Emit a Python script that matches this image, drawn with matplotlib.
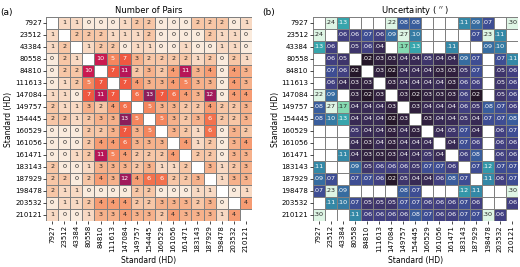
import numpy as np
import matplotlib
matplotlib.use("Agg")
import matplotlib.pyplot as plt
import seaborn as sns

labels = ["7927", "23512", "43384", "80558", "84810", "111613", "147084", "149757",
          "154445", "160529", "161056", "161471", "183143", "187929", "198478",
          "203532", "210121"]

N = None
pairs = [
    [N, 1, 1, 0, 0, 0, 1, 2, 2, 0, 0, 0, 2, 2, 2, 0, 1],
    [1, N, 2, 2, 2, 1, 1, 1, 2, 0, 0, 0, 0, 2, 1, 1, 0],
    [1, 2, N, 1, 2, 2, 0, 1, 1, 0, 0, 1, 0, 0, 1, 1, 0],
    [0, 2, 1, N, 10, 5, 7, 3, 2, 2, 2, 2, 1, 2, 0, 2, 1],
    [0, 2, 2, 10, N, 7, 11, 2, 3, 2, 4, 11, 3, 4, 0, 4, 3],
    [0, 1, 2, 5, 7, N, 7, 4, 3, 3, 4, 5, 3, 3, 0, 4, 3],
    [1, 1, 0, 7, 11, 7, N, 6, 13, 7, 6, 4, 3, 12, 0, 4, 4],
    [2, 1, 1, 3, 2, 4, 6, N, 5, 3, 3, 2, 2, 4, 2, 2, 3],
    [2, 2, 1, 2, 3, 3, 13, 5, N, 5, 3, 2, 3, 6, 2, 2, 3],
    [0, 0, 0, 2, 2, 3, 7, 3, 5, N, 3, 2, 1, 6, 0, 3, 2],
    [0, 0, 0, 2, 4, 4, 6, 3, 3, 3, N, 4, 1, 2, 0, 3, 4],
    [0, 0, 1, 2, 11, 5, 4, 2, 2, 2, 4, N, 2, 2, 0, 3, 3],
    [2, 0, 0, 1, 3, 3, 3, 2, 3, 1, 1, 2, N, 3, 1, 2, 3],
    [2, 2, 0, 2, 4, 3, 12, 4, 6, 6, 2, 2, 3, N, 1, 3, 3],
    [2, 1, 1, 0, 0, 0, 0, 2, 2, 0, 0, 0, 1, 1, N, 0, 1],
    [0, 1, 1, 2, 4, 4, 4, 2, 2, 3, 3, 3, 2, 3, 0, N, 4],
    [1, 0, 0, 1, 3, 3, 4, 3, 3, 2, 4, 3, 3, 3, 1, 4, N],
]

uncert = [
    [N, .24, .13, N, N, N, .22, .08, .08, N, N, N, .11, .09, .07, N, .30],
    [.24, N, .06, .06, .07, .06, .09, .27, .10, N, N, N, N, .07, .23, .11, N],
    [.13, .06, N, .05, .06, .04, N, .17, .13, N, N, .11, N, N, .09, .10, N],
    [N, .06, .05, N, .02, .03, .03, .04, .04, .05, .04, .04, .09, .07, N, .07, .11],
    [N, .07, .06, .02, N, .03, .02, .04, .04, .04, .03, .03, .05, .07, N, .05, .06],
    [N, .06, .04, .03, .03, N, .03, .04, .04, .04, .04, .03, .06, .06, N, .05, .06],
    [.22, .09, N, .03, .02, .03, N, .03, .02, .03, .03, .03, .06, .02, N, .05, .06],
    [.08, .27, .17, .04, .04, .04, .03, N, .03, .04, .04, .04, .06, .05, .08, .07, .06],
    [.08, .10, .13, .04, .04, .04, .02, .03, N, .03, .04, .04, .05, .04, .07, .07, .08],
    [N, N, N, .05, .04, .04, .03, .04, .03, N, .04, .05, .07, .04, N, .06, .07],
    [N, N, N, .04, .03, .04, .03, .04, .04, .04, N, .04, .07, .06, N, .06, .06],
    [N, N, .11, .04, .03, .03, .03, .04, .04, .05, .04, N, .06, .08, N, .06, .06],
    [.11, N, N, .09, .05, .06, .06, .06, .05, .07, .07, .06, N, .07, .12, .07, .07],
    [.09, .07, N, .07, .07, .06, .02, .05, .04, .04, .06, .08, .07, N, .11, .06, .07],
    [.07, .23, .09, N, N, N, N, .08, .07, N, N, N, .12, .11, N, N, .30],
    [N, .11, .10, .07, .05, .05, .05, .07, .07, .06, .06, .06, .07, .06, N, N, .06],
    [.30, N, N, .11, .06, .06, .06, .06, .08, .07, .06, .06, .07, .07, .30, .06, N],
]

P = np.array([[np.nan if v is None else v for v in r] for r in pairs], dtype=float)
U = np.array([[np.nan if v is None else v for v in r] for r in uncert], dtype=float)
U_txt = np.array([["" if np.isnan(v) else f"{v:.2f}".lstrip("0") for v in r] for r in U])

fig = plt.figure(figsize=(5.2, 2.67), dpi=100)
W, H = 520, 267
top, bot = 17, 221
ax1 = fig.add_axes([46 / W, (H - bot) / H, 206 / W, (bot - top) / H])
ax2 = fig.add_axes([312.5 / W, (H - bot) / H, 205.5 / W, (bot - top) / H])

fs_tick = 5
fs_ann = 4.6

sns.heatmap(P, ax=ax1, cmap="rocket_r", vmin=0, vmax=20, annot=True, fmt=".0f",
            annot_kws={"size": fs_ann}, cbar=False, linewidths=0.5, linecolor="gray",
            xticklabels=labels, yticklabels=labels)
sns.heatmap(U, ax=ax2, cmap="mako", vmin=0, vmax=0.2, annot=U_txt, fmt="",
            annot_kws={"size": fs_ann}, cbar=False, linewidths=0.5, linecolor="gray",
            xticklabels=labels, yticklabels=labels)

for ax, title, tag, tx in [(ax1, "Number of Pairs", "(a)", 0.001),
                           (ax2, "Uncertainty ( $^{\\prime\\prime}$ )", "(b)", 0.505)]:
    ax.set_title(title, fontsize=6, pad=3)
    ax.set_xlabel("Standard (HD)", fontsize=5.5, labelpad=3)
    ax.set_ylabel("Standard (HD)", fontsize=5.5, labelpad=1)
    ax.tick_params(axis="both", labelsize=fs_tick, length=2, width=0.5, pad=1)
    plt.setp(ax.get_xticklabels(), rotation=90)
    plt.setp(ax.get_yticklabels(), rotation=0)
    fig.text(tx, 0.955, tag, fontsize=6.5, ha="left", va="center")

fig.savefig("out.png", dpi=100)
